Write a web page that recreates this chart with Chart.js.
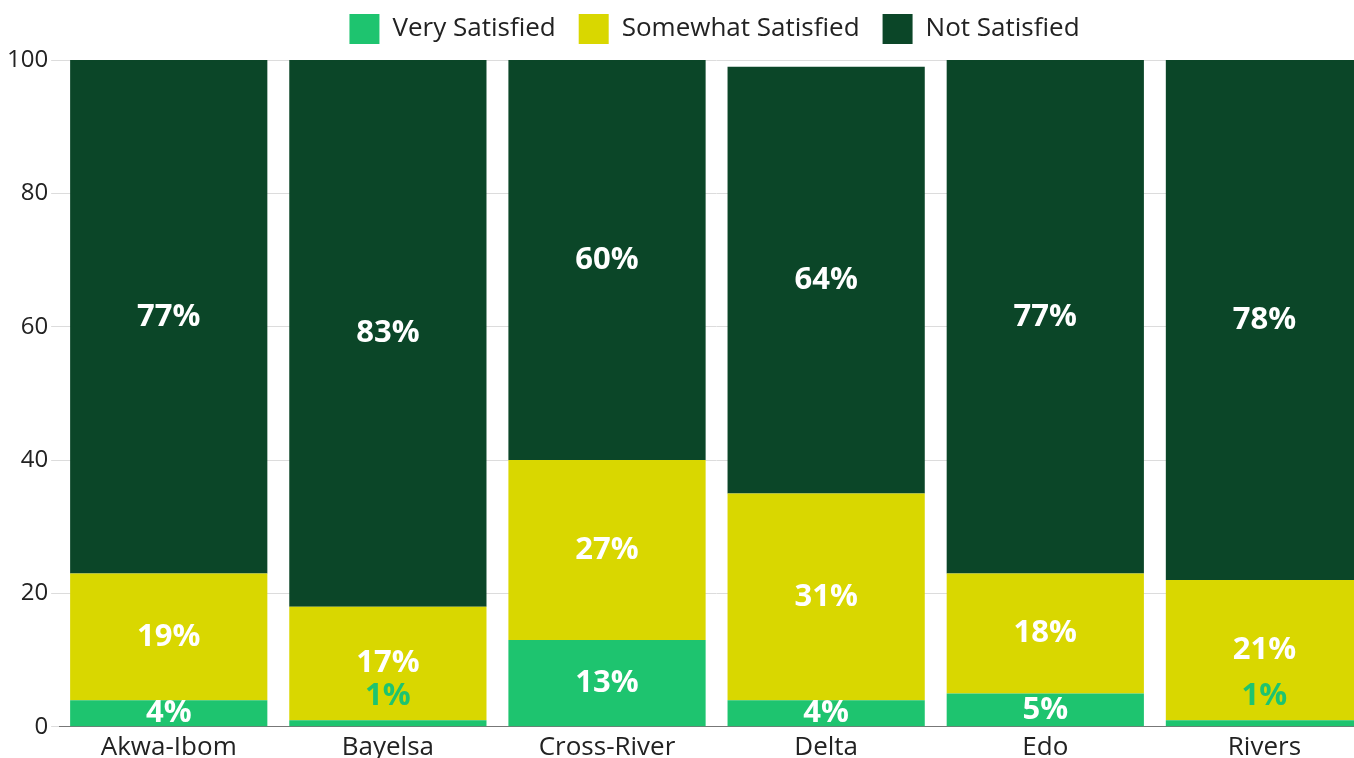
<!DOCTYPE html>
<html>
<head>
<meta charset="utf-8">
<title>Satisfaction by State</title>
<script src="https://cdn.jsdelivr.net/npm/chart.js@4.4.0/dist/chart.umd.min.js"></script>
<style>
  html, body { margin: 0; padding: 0; overflow: hidden; background: #fff; }
  #wrap { width: 1425px; height: 764px; position: relative; }
</style>
</head>
<body>
<div id="wrap"><canvas id="satisfaction-chart"></canvas></div>
<script>
var states = ["Akwa-Ibom", "Bayelsa", "Cross-River", "Delta", "Edo", "Rivers"];
var verySatisfied = [4, 1, 13, 4, 5, 1];
var somewhatSatisfied = [19, 17, 27, 31, 18, 21];
var notSatisfied = [77, 83, 60, 64, 77, 78];
var yTicks = [0, 20, 40, 60, 80, 100];

var GREEN = "#1ec46f";
var YELLOW = "#d9d700";
var DARK = "#0b4628";
var FONT = "'Open Sans', 'Noto Sans', sans-serif";

Chart.defaults.font.family = FONT;
Chart.defaults.color = "#222";

// writes the percentage inside each segment; thin segments get it above, in their own colour
var percentLabels = {
    id: "percentLabels",
    afterDatasetsDraw: function(chart) {
        var ctx = chart.ctx;
        ctx.save();
        ctx.font = "bold 31px " + FONT;
        ctx.textAlign = "center";
        ctx.textBaseline = "middle";
        chart.data.datasets.forEach(function(ds, i) {
            var meta = chart.getDatasetMeta(i);
            meta.data.forEach(function(bar, j) {
                var v = ds.data[j];
                var top = Math.max(bar.y, chart.chartArea.top);
                var y = (top + bar.base) / 2;
                ctx.fillStyle = "#fff";
                if (v < 3) {
                    y = top - 24;
                    ctx.fillStyle = ds.backgroundColor;
                }
                ctx.fillText(v + "%", bar.x, y);
            });
        });
        ctx.restore();
    }
};

// a bit more room between the legend and the plot
var legendGap = {
    id: "legendGap",
    afterInit: function(chart) {
        var legend = chart.legend;
        var fit = legend.fit;
        legend.fit = function() {
            fit.call(this);
            this.height += 6;
        };
    }
};

new Chart(document.getElementById("satisfaction-chart"), {
    type: "bar",
    data: {
        labels: states,
        datasets: [
            { label: "Very Satisfied", data: verySatisfied, backgroundColor: GREEN },
            { label: "Somewhat Satisfied", data: somewhatSatisfied, backgroundColor: YELLOW },
            { label: "Not Satisfied", data: notSatisfied, backgroundColor: DARK }
        ]
    },
    options: {
        responsive: true,
        maintainAspectRatio: false,
        animation: false,
        datasets: { bar: { barPercentage: 0.9, categoryPercentage: 1 } },
        layout: { padding: { top: -9, left: 4 } },
        plugins: {
            legend: {
                position: "top",
                labels: {
                    boxWidth: 30,
                    boxHeight: 30,
                    padding: 23,
                    font: { size: 26 },
                    color: "#222"
                }
            },
            tooltip: { enabled: false }
        },
        scales: {
            x: {
                stacked: true,
                grid: { display: false, tickLength: 4 },
                border: { color: "#777" },
                ticks: { font: { size: 26 }, color: "#222", padding: 1 }
            },
            y: {
                stacked: true,
                min: 0,
                max: 100,
                afterBuildTicks: function(axis) {
                    axis.ticks = yTicks.map(function(v) { return { value: v }; });
                },
                grid: { color: "#dcdcdc", drawTicks: true, tickLength: 8 },
                border: { display: false },
                ticks: { font: { size: 24 }, color: "#222" }
            },
            yRight: {
                position: "right",
                display: true,
                grid: { display: false },
                border: { display: false },
                ticks: { display: false },
                afterFit: function(axis) { axis.width = 51; }
            }
        }
    },
    plugins: [percentLabels, legendGap]
});
</script>
</body>
</html>
